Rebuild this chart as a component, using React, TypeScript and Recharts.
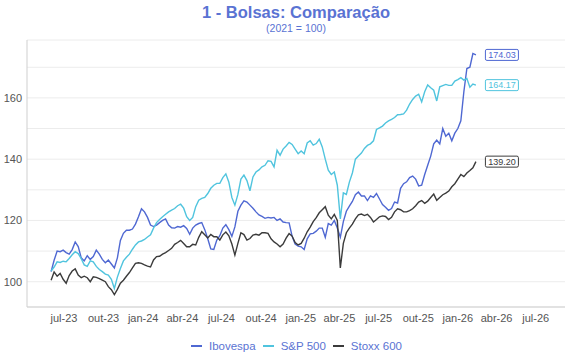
import { CartesianGrid, LabelList, Line, LineChart, XAxis, YAxis } from 'recharts'

// weekly index levels (2021 = 100), first week 2023-06-01
const ibovespa = [
  103.3, 107, 110, 109.8, 110.3, 109.5, 109, 110.5, 113, 111.5,
  107.8, 106.8, 108.5, 107.3, 108.2, 110.3, 109, 107.3, 106.2, 107.1,
  105.8, 104.5, 107.8, 113.5, 115.8, 116.8, 116.8, 117.2, 118.8, 121.2,
  123.8, 122.8, 121, 118.5, 118, 118.5, 119.3, 120, 120.5, 118.5,
  117.6, 117.5, 118, 117.8, 118.3, 117.4, 115.5, 117.5, 118.5, 119,
  119.3, 117, 114, 110.7, 110.5, 113.6, 115, 117.5, 118.6, 117,
  114.8, 117.9, 123, 125, 126.4, 126, 125, 124, 122.8, 121.8,
  121.3, 120.7, 121, 120.8, 121, 120, 120.5, 119.5, 119.3, 119.2,
  114.8, 112.3, 111.6, 111.4, 110.5, 114, 115.6, 115.8, 116.5, 117.5,
  117.5, 114.5, 119, 118.5, 120, 117.5, 114.5, 119.6, 123, 124.7,
  126.2, 128.4, 129.3, 128, 128, 126.5, 128, 127.5, 128.8, 127,
  125.2, 124.3, 123.3, 123.9, 126, 125.7, 130.5, 132, 132.6, 134,
  134.5, 133.5, 131.3, 131.5, 135, 138, 141, 145, 146.2, 145,
  150, 147.5, 148.5, 146, 148.5, 150, 152.5, 162, 169.6, 170,
  174.5, 174.03,
]

const sp500 = [
  103.5, 104.8, 106.5, 106.3, 106.7, 106.5, 107.6, 108.8, 109.8, 109.2,
  107.5, 105.5, 105, 106.8, 106.5, 105, 104, 103.3, 102.5, 102.2,
  100.8, 97.8, 101.5, 104.3, 106.8, 108, 109, 110.6, 112, 113,
  113.3, 113.8, 114.6, 115.3, 117.5, 119.3, 120.3, 121.2, 122, 122.8,
  123.4, 123.9, 124.8, 125.3, 124, 121.2, 120, 121, 124.5, 126.6,
  127.2, 127.5, 128.8, 130.5, 131.5, 132.1, 132.1, 134, 135.2, 132.5,
  127.5, 125, 128.5, 133.5, 134.8, 133, 129.7, 134.2, 135.8, 136.5,
  137.5, 138, 139.5, 139.3, 137.5, 142.9, 141.3, 143.3, 144.3, 145.5,
  144.8, 143.3, 141.8, 142.7, 141.8, 145.3, 146, 144.6, 145.1, 146.5,
  144, 140, 136.4, 135, 135.8, 131.5, 120.5, 129, 128.5, 132.5,
  135.5, 140, 141, 142, 143.5, 144.5, 145, 146, 149.7, 150.2,
  150.8, 151.8, 152.5, 153, 153.6, 154.5, 154.6, 154.8, 156, 158,
  159.5, 160.6, 161.2, 158.7, 162, 164.2, 163.3, 162.5, 159, 163.6,
  164, 164.4, 164.1, 164.1, 165.5, 166, 166.6, 165.8, 166.3, 163.5,
  164.5, 164.17,
]

const stoxx600 = [
  100.5, 103.2, 101.8, 102.7, 100.8, 99.5, 102, 103.5, 104.2, 102.2,
  101.3, 101.8, 101.3, 100, 101.6, 101.4, 101, 100.5, 100, 98.4,
  97.4, 95.8, 97.5, 99.5, 100.5, 101.8, 103, 104.5, 106, 106.2,
  106, 105.5, 105.1, 104.8, 107.1, 108.2, 108.3, 109, 109.5, 110.2,
  110.9, 112.2, 112.8, 113.5, 112.5, 111.4, 111.4, 112.2, 112, 114.5,
  116.3, 115.3, 114.3, 115.4, 114.7, 114.7, 113.6, 115.3, 116.2, 115,
  112.3, 108.7, 112.5, 116, 115.4, 113.6, 114.1, 115.2, 115.5, 115.2,
  116, 116, 115.8, 114, 113, 112.3, 111.4, 112.3, 114.2, 115.7,
  114.9, 112.8, 112, 112.5, 114.2, 116.3, 117.8, 119.6, 120.9, 122.5,
  123.5, 124.5, 121.7, 120.5, 122, 120, 104.5, 112.5, 116, 117.5,
  118.8, 120.5, 121.8, 122.1, 121.6, 122, 121, 119.5, 120.3, 121.2,
  121.5, 121.3, 120.3, 121, 122.8, 123.8, 123.5, 122.8, 122.8, 123.2,
  123.8, 124.8, 126, 126.5, 125.6, 126.3, 127.5, 128.6, 126.6, 127.5,
  128.4, 128.9, 129.6, 131, 132, 133.5, 135, 134.3, 135.5, 136.3,
  137.2, 139.2,
]

const START = Date.UTC(2023, 5, 1)
const WEEK = 7 * 86400000
const LAST = ibovespa.length - 1

const xDomain = [Date.UTC(2023, 3, 6), Date.UTC(2026, 8, 7)]
const tickMonths: [number, number][] = [
  [2023, 6], [2023, 9], [2024, 0], [2024, 3], [2024, 6], [2024, 9], [2025, 0],
  [2025, 3], [2025, 6], [2025, 9], [2026, 0], [2026, 3], [2026, 6],
]
const monthAbbr = ['jan', 'fev', 'mar', 'abr', 'mai', 'jun', 'jul', 'ago', 'set', 'out', 'nov', 'dez']
const yTicks = [100, 110, 120, 130, 140, 150, 160, 170]

const FONT = '"Liberation Sans", Arial, sans-serif'
const TITLE_BLUE = '#5a73d3'

const series = [
  { key: 'ibov', name: 'Ibovespa', color: '#4f68d2', values: ibovespa },
  { key: 'spx', name: 'S&P 500', color: '#50c4de', values: sp500 },
  { key: 'stoxx', name: 'Stoxx 600', color: '#3b3b3b', values: stoxx600 },
]

const data = ibovespa.map((_, i) => ({
  t: START + i * WEEK,
  ibov: ibovespa[i],
  spx: sp500[i],
  stoxx: stoxx600[i],
}))

const xTicks = tickMonths.map(([y, m]) => Date.UTC(y, m, 1))
const fmtMonth = (t: number) => {
  const d = new Date(t)
  return `${monthAbbr[d.getUTCMonth()]}-${String(d.getUTCFullYear()).slice(2)}`
}

function endLabel(color: string) {
  return (props: any) => {
    const { x, y, index, value } = props
    if (index !== LAST || x == null) return null
    return (
      <g>
        <rect x={x + 9.5} y={y - 5.5} width={33} height={11} rx={1.5} fill="#fff" stroke={color} strokeWidth={1} />
        <text x={x + 26} y={y + 3.2} textAnchor="middle" fontSize={9} fill={color} fontFamily={FONT}>
          {Number(value).toFixed(2)}
        </text>
      </g>
    )
  }
}

export default function App() {
  const tick = { fill: '#555', fontSize: 11, fontFamily: FONT }
  return (
    <div style={{ position: 'absolute', left: 0, top: 0, width: 570, height: 360, background: '#fff', fontFamily: FONT }}>
      <div style={{ position: 'absolute', left: 27, top: 2, width: 538, textAlign: 'center', fontSize: 16.5, lineHeight: '20px', fontWeight: 700, color: TITLE_BLUE }}>
        1 - Bolsas: Comparação
      </div>
      <div style={{ position: 'absolute', left: 27, top: 22, width: 538, textAlign: 'center', fontSize: 10.5, lineHeight: '13px', color: TITLE_BLUE }}>
        (2021 = 100)
      </div>
      <LineChart width={570} height={360} data={data} margin={{ top: 40, right: 5, bottom: 28, left: 0 }}>
        <CartesianGrid horizontal vertical={false} stroke="#ececec" />
        <XAxis
          dataKey="t"
          type="number"
          domain={xDomain}
          ticks={xTicks}
          tickFormatter={fmtMonth}
          height={25}
          tickLine={false}
          tickSize={5}
          tickMargin={2}
          axisLine={{ stroke: '#cfcfcf' }}
          tick={tick}
          allowDataOverflow
        />
        <YAxis
          type="number"
          domain={[91.75, 178.9]}
          ticks={yTicks}
          tickFormatter={(v: number) => (v % 20 === 0 ? String(v) : '')}
          width={27}
          tickLine={false}
          tickSize={3}
          tickMargin={2}
          axisLine={{ stroke: '#cfcfcf' }}
          tick={tick}
          allowDataOverflow
        />
        {series.map((s) => (
          <Line
            key={s.key}
            dataKey={s.key}
            name={s.name}
            type="linear"
            stroke={s.color}
            strokeWidth={1.4}
            dot={false}
            isAnimationActive={false}
          >
            <LabelList dataKey={s.key} content={endLabel(s.color)} />
          </Line>
        ))}
      </LineChart>
      <div style={{ position: 'absolute', left: 0, top: 338, width: 600, display: 'flex', justifyContent: 'center', alignItems: 'center', fontSize: 11.5, lineHeight: '16px', color: TITLE_BLUE }}>
        {series.map((s) => (
          <div key={s.key} style={{ display: 'flex', alignItems: 'center', marginRight: 7 }}>
            <span style={{ display: 'inline-block', width: 11, height: 2, background: s.color, marginRight: 7 }} />
            <span>{s.name}</span>
          </div>
        ))}
      </div>
    </div>
  )
}
